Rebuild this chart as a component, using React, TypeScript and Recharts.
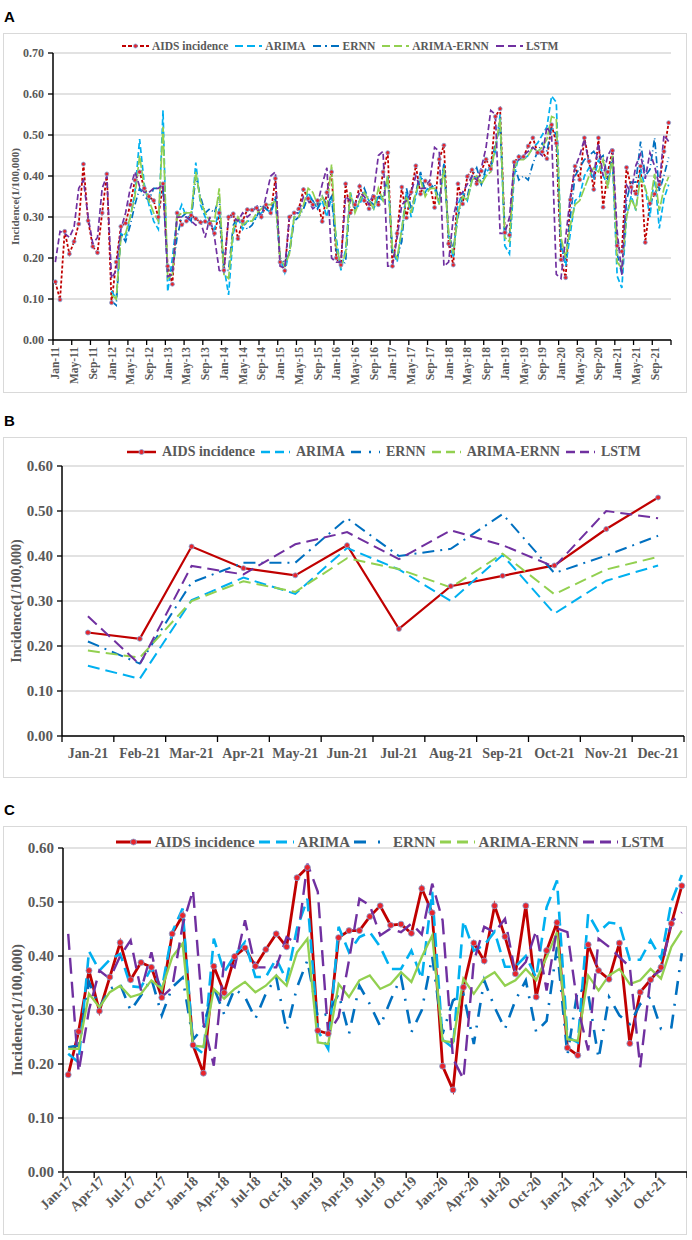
import React from 'react';
import { LineChart, Line, XAxis, YAxis, CartesianGrid } from 'recharts';

const SERIF = "'Liberation Serif', 'Times New Roman', serif";
const GREY = '#595959';

const MONTHS = ['Jan', 'Feb', 'Mar', 'Apr', 'May', 'Jun', 'Jul', 'Aug', 'Sep', 'Oct', 'Nov', 'Dec'];
const YEARS_A = ['11', '12', '13', '14', '15', '16', '17', '18', '19', '20', '21'];
const YEARS_C = ['17', '18', '19', '20', '21'];

// observed AIDS incidence (1/100,000)
const aidsEarly = [
  0.142, 0.098, 0.265, 0.210, 0.240, 0.283, 0.429, 0.291, 0.228, 0.213, 0.310, 0.405,
  0.091, 0.190, 0.277, 0.285, 0.330, 0.390, 0.410, 0.370, 0.350, 0.340, 0.300, 0.381,
  0.180, 0.136, 0.310, 0.281, 0.290, 0.304, 0.296, 0.287, 0.289, 0.284, 0.260, 0.310,
  0.170, 0.300, 0.308, 0.247, 0.290, 0.318, 0.317, 0.322, 0.300, 0.330, 0.310, 0.394,
  0.190, 0.169, 0.300, 0.310, 0.320, 0.367, 0.345, 0.330, 0.340, 0.289, 0.360, 0.410,
  0.200, 0.183, 0.381, 0.310, 0.330, 0.375, 0.340, 0.320, 0.350, 0.330, 0.410, 0.457,
];
const aidsLate = [
  0.180, 0.260, 0.373, 0.298, 0.361, 0.425, 0.356, 0.388, 0.379, 0.323, 0.441, 0.475,
  0.235, 0.183, 0.381, 0.332, 0.399, 0.415, 0.381, 0.412, 0.441, 0.417, 0.545, 0.564,
  0.262, 0.256, 0.434, 0.447, 0.447, 0.473, 0.493, 0.457, 0.459, 0.442, 0.525, 0.480,
  0.196, 0.152, 0.342, 0.424, 0.391, 0.493, 0.436, 0.367, 0.493, 0.324, 0.410, 0.462,
  0.230, 0.216, 0.421, 0.373, 0.357, 0.424, 0.238, 0.333, 0.356, 0.379, 0.460, 0.530,
];

// 2021 predictions (panel B, also the tail of panel A)
const arimaB = [0.156, 0.127, 0.302, 0.352, 0.316, 0.418, 0.370, 0.300, 0.402, 0.272, 0.345, 0.379];
const ernnB = [0.210, 0.161, 0.341, 0.385, 0.385, 0.484, 0.400, 0.416, 0.493, 0.362, 0.401, 0.445];
const hybridB = [0.190, 0.174, 0.300, 0.344, 0.320, 0.395, 0.371, 0.330, 0.405, 0.315, 0.370, 0.398];
const lstmB = [0.266, 0.159, 0.378, 0.359, 0.426, 0.453, 0.393, 0.457, 0.424, 0.376, 0.500, 0.484];

// fitted values, Jan-12 .. Dec-20
const arimaFitA = [
  0.120, 0.100, 0.260, 0.250, 0.300, 0.360, 0.490, 0.380, 0.330, 0.290, 0.270, 0.560,
  0.118, 0.200, 0.300, 0.330, 0.300, 0.290, 0.433, 0.330, 0.300, 0.280, 0.270, 0.320,
  0.180, 0.110, 0.260, 0.300, 0.270, 0.290, 0.290, 0.300, 0.310, 0.320, 0.310, 0.340,
  0.200, 0.165, 0.220, 0.300, 0.310, 0.320, 0.360, 0.340, 0.320, 0.340, 0.300, 0.350,
  0.250, 0.170, 0.220, 0.360, 0.320, 0.330, 0.360, 0.340, 0.320, 0.350, 0.340, 0.400,
  0.220, 0.190, 0.270, 0.360, 0.300, 0.350, 0.400, 0.360, 0.380, 0.370, 0.330, 0.430,
  0.250, 0.200, 0.330, 0.360, 0.340, 0.390, 0.400, 0.380, 0.410, 0.420, 0.460, 0.550,
  0.230, 0.210, 0.400, 0.450, 0.440, 0.450, 0.470, 0.480, 0.500, 0.520, 0.595, 0.580,
  0.240, 0.180, 0.260, 0.340, 0.350, 0.400, 0.420, 0.390, 0.440, 0.400, 0.380, 0.440,
];
const ernnFitA = [
  0.095, 0.085, 0.260, 0.240, 0.280, 0.330, 0.370, 0.350, 0.340, 0.370, 0.370, 0.370,
  0.170, 0.170, 0.250, 0.300, 0.310, 0.290, 0.400, 0.350, 0.310, 0.320, 0.310, 0.350,
  0.170, 0.170, 0.280, 0.300, 0.290, 0.270, 0.280, 0.300, 0.330, 0.320, 0.310, 0.350,
  0.200, 0.190, 0.210, 0.290, 0.300, 0.320, 0.350, 0.340, 0.320, 0.350, 0.330, 0.350,
  0.220, 0.180, 0.190, 0.350, 0.320, 0.340, 0.370, 0.340, 0.330, 0.350, 0.350, 0.400,
  0.210, 0.200, 0.240, 0.370, 0.320, 0.360, 0.410, 0.360, 0.370, 0.380, 0.340, 0.430,
  0.260, 0.220, 0.300, 0.350, 0.350, 0.400, 0.420, 0.380, 0.420, 0.420, 0.480, 0.520,
  0.270, 0.250, 0.430, 0.390, 0.400, 0.390, 0.430, 0.460, 0.480, 0.460, 0.520, 0.500,
  0.220, 0.200, 0.300, 0.400, 0.420, 0.440, 0.450, 0.460, 0.440, 0.450, 0.390, 0.450,
];
const hybridFitA = [
  0.110, 0.100, 0.250, 0.260, 0.300, 0.350, 0.450, 0.370, 0.340, 0.310, 0.290, 0.520,
  0.150, 0.160, 0.300, 0.310, 0.310, 0.310, 0.410, 0.340, 0.310, 0.290, 0.290, 0.370,
  0.160, 0.150, 0.270, 0.300, 0.280, 0.290, 0.290, 0.310, 0.320, 0.330, 0.330, 0.340,
  0.200, 0.180, 0.210, 0.300, 0.300, 0.330, 0.370, 0.360, 0.330, 0.350, 0.320, 0.428,
  0.230, 0.180, 0.210, 0.360, 0.310, 0.340, 0.360, 0.340, 0.320, 0.370, 0.340, 0.400,
  0.220, 0.200, 0.270, 0.350, 0.310, 0.360, 0.390, 0.350, 0.370, 0.370, 0.330, 0.420,
  0.260, 0.210, 0.310, 0.350, 0.340, 0.390, 0.400, 0.380, 0.400, 0.410, 0.470, 0.540,
  0.250, 0.240, 0.420, 0.440, 0.440, 0.450, 0.470, 0.460, 0.470, 0.490, 0.545, 0.540,
  0.250, 0.200, 0.280, 0.330, 0.340, 0.370, 0.400, 0.420, 0.410, 0.440, 0.370, 0.450,
];
// LSTM fitted values, Jan-11 .. Dec-20
const lstmFitA = [
  0.190, 0.265, 0.260, 0.250, 0.275, 0.370, 0.390, 0.300, 0.235, 0.250, 0.370, 0.400,
  0.150, 0.170, 0.270, 0.310, 0.370, 0.410, 0.375, 0.360, 0.360, 0.370, 0.370, 0.380,
  0.155, 0.160, 0.300, 0.300, 0.300, 0.290, 0.280, 0.290, 0.250, 0.300, 0.250, 0.170,
  0.165, 0.300, 0.300, 0.290, 0.310, 0.300, 0.310, 0.330, 0.300, 0.350, 0.400, 0.410,
  0.180, 0.175, 0.300, 0.310, 0.310, 0.350, 0.340, 0.320, 0.330, 0.380, 0.420, 0.200,
  0.190, 0.190, 0.350, 0.340, 0.330, 0.360, 0.350, 0.330, 0.360, 0.450, 0.460, 0.180,
  0.180, 0.250, 0.330, 0.340, 0.360, 0.400, 0.370, 0.370, 0.390, 0.470, 0.460, 0.180,
  0.190, 0.300, 0.350, 0.360, 0.380, 0.400, 0.390, 0.420, 0.470, 0.560, 0.550, 0.260,
  0.260, 0.300, 0.430, 0.440, 0.450, 0.460, 0.470, 0.460, 0.450, 0.520, 0.500, 0.160,
  0.150, 0.250, 0.350, 0.420, 0.450, 0.490, 0.430, 0.400, 0.480, 0.400, 0.450, 0.470,
];

// panel C predictions, Jan-17 .. Dec-21
const arimaC = [
  0.219, 0.203, 0.409, 0.373, 0.393, 0.404, 0.344, 0.342, 0.378, 0.339, 0.444, 0.488,
  0.234, 0.219, 0.432, 0.370, 0.401, 0.426, 0.361, 0.361, 0.395, 0.355, 0.451, 0.506,
  0.262, 0.228, 0.454, 0.407, 0.435, 0.444, 0.417, 0.376, 0.376, 0.410, 0.358, 0.519,
  0.245, 0.230, 0.465, 0.410, 0.420, 0.445, 0.380, 0.380, 0.400, 0.360, 0.490, 0.540,
  0.250, 0.240, 0.478, 0.444, 0.462, 0.459, 0.393, 0.393, 0.429, 0.395, 0.500, 0.550,
];
const ernnC = [
  0.231, 0.234, 0.352, 0.305, 0.339, 0.348, 0.299, 0.327, 0.358, 0.290, 0.342, 0.360,
  0.245, 0.268, 0.342, 0.292, 0.339, 0.324, 0.284, 0.330, 0.361, 0.262, 0.342, 0.392,
  0.287, 0.293, 0.330, 0.256, 0.345, 0.311, 0.270, 0.318, 0.361, 0.259, 0.300, 0.399,
  0.256, 0.318, 0.330, 0.237, 0.355, 0.305, 0.265, 0.318, 0.355, 0.259, 0.280, 0.417,
  0.216, 0.339, 0.330, 0.210, 0.324, 0.290, 0.274, 0.311, 0.324, 0.265, 0.268, 0.405,
];
const hybridC = [
  0.228, 0.228, 0.330, 0.305, 0.333, 0.345, 0.324, 0.330, 0.355, 0.339, 0.398, 0.423,
  0.234, 0.232, 0.339, 0.321, 0.339, 0.352, 0.333, 0.345, 0.364, 0.345, 0.407, 0.432,
  0.240, 0.237, 0.348, 0.324, 0.355, 0.364, 0.339, 0.348, 0.370, 0.352, 0.398, 0.438,
  0.243, 0.240, 0.358, 0.330, 0.358, 0.370, 0.345, 0.355, 0.376, 0.355, 0.398, 0.444,
  0.246, 0.243, 0.364, 0.336, 0.364, 0.376, 0.348, 0.355, 0.376, 0.358, 0.417, 0.447,
];
const lstmC = [
  0.441, 0.185, 0.300, 0.373, 0.358, 0.400, 0.429, 0.336, 0.407, 0.324, 0.342, 0.457,
  0.522, 0.277, 0.197, 0.392, 0.379, 0.466, 0.379, 0.379, 0.379, 0.435, 0.423, 0.571,
  0.519, 0.256, 0.287, 0.392, 0.506, 0.494, 0.438, 0.451, 0.444, 0.460, 0.440, 0.534,
  0.466, 0.210, 0.172, 0.390, 0.454, 0.444, 0.469, 0.367, 0.389, 0.447, 0.336, 0.451,
  0.444, 0.305, 0.225, 0.432, 0.417, 0.398, 0.380, 0.194, 0.361, 0.373, 0.463, 0.481,
];

const ticksA = [0, 0.1, 0.2, 0.3, 0.4, 0.5, 0.6, 0.7];
const ticksBC = [0, 0.1, 0.2, 0.3, 0.4, 0.5, 0.6];

const monthsA = YEARS_A.flatMap((y) => MONTHS.map((m) => `${m}-${y}`));
const monthsB = MONTHS.map((m) => `${m}-21`);
const monthsC = YEARS_C.flatMap((y) => MONTHS.map((m) => `${m}-${y}`));

const pad12 = Array(12).fill(null);
const aidsA = [...aidsEarly, ...aidsLate];
const arimaA = [...pad12, ...arimaFitA, ...arimaB];
const ernnA = [...pad12, ...ernnFitA, ...ernnB];
const hybridA = [...pad12, ...hybridFitA, ...hybridB];
const lstmA = [...lstmFitA, ...lstmB];
const aidsB = aidsLate.slice(48);

const dataA = monthsA.map((month, i) => ({
  month, aids: aidsA[i], arima: arimaA[i], ernn: ernnA[i], hybrid: hybridA[i], lstm: lstmA[i],
}));
const dataB = monthsB.map((month, i) => ({
  month, aids: aidsB[i], arima: arimaB[i], ernn: ernnB[i], hybrid: hybridB[i], lstm: lstmB[i],
}));
const dataC = monthsC.map((month, i) => ({
  month, aids: aidsLate[i], arima: arimaC[i], ernn: ernnC[i], hybrid: hybridC[i], lstm: lstmC[i],
}));

const SERIES = [
  { key: 'aids', name: 'AIDS incidence', color: '#c00000' },
  { key: 'arima', name: 'ARIMA', color: '#00b0f0' },
  { key: 'ernn', name: 'ERNN', color: '#0070c0' },
  { key: 'hybrid', name: 'ARIMA-ERNN', color: '#92d050' },
  { key: 'lstm', name: 'LSTM', color: '#7030a0' },
];

type Dashes = Record<string, string | undefined>;

function makeXTick(kind: string, labels: string[], band: number, step: number, fontSize: number, tickLen: number) {
  return (props: any) => {
    const { x, y, payload } = props;
    const idx = labels.indexOf(payload.value);
    const half = band / 2;
    const axisY = y - tickLen;
    const lastEdge = idx + step >= labels.length ? x - half + (labels.length - idx) * band : null;
    let text;
    if (kind === 'vertical') {
      text = (
        <text transform={`translate(${x + 4},${y + 2}) rotate(-90)`} textAnchor="end">
          {payload.value}
        </text>
      );
    } else if (kind === 'diagonal') {
      text = (
        <text transform={`translate(${x + 6},${y + 4}) rotate(-45)`} textAnchor="end">
          {payload.value}
        </text>
      );
    } else {
      text = (
        <text x={x} y={y + 16} textAnchor="middle">
          {payload.value}
        </text>
      );
    }
    return (
      <g fill={GREY} fontSize={fontSize} fontWeight={700} fontFamily={SERIF}>
        <line x1={x - half} y1={axisY} x2={x - half} y2={axisY + tickLen} stroke="#000" strokeWidth={1.3} />
        {lastEdge !== null && (
          <line x1={lastEdge} y1={axisY} x2={lastEdge} y2={axisY + tickLen} stroke="#000" strokeWidth={1.3} />
        )}
        {text}
      </g>
    );
  };
}

function LegendRow(props: {
  top: number; left: number; fontSize: number; symW: number; textGap: number; itemGap: number;
  dashes: Dashes; lineW: number; dotR: number;
}) {
  const { top, left, fontSize, symW, textGap, itemGap, dashes, lineW, dotR } = props;
  return (
    <div style={{ position: 'absolute', top: top - 9, left, height: 18, display: 'flex', alignItems: 'center', whiteSpace: 'nowrap' }}>
      {SERIES.map((s) => (
        <div key={s.key} style={{ display: 'flex', alignItems: 'center', marginRight: itemGap }}>
          <svg width={symW} height={10} style={{ display: 'block' }}>
            <line x1={0} y1={5} x2={symW} y2={5} stroke={s.color} strokeWidth={lineW} strokeDasharray={dashes[s.key]} />
            {s.key === 'aids' && (
              <circle cx={symW / 2} cy={5} r={dotR} fill="#e8242c" stroke="#7fa8dc" strokeWidth={0.8} />
            )}
          </svg>
          <span style={{ marginLeft: textGap, fontSize, fontWeight: 700, color: GREY, fontFamily: SERIF }}>{s.name}</span>
        </div>
      ))}
    </div>
  );
}

function Panel(props: {
  letter: string; top: number; height: number; data: any[]; labels: string[];
  marginTop: number; marginRight: number; yWidth: number; xHeight: number;
  yMax: number; yTicks: number[]; tickFont: number; titleFont: number; titleX: number;
  xKind: string; interval: number; tickLen: number; xFont: number;
  dashes: Dashes; widths: Record<string, number>; dotR: number;
}) {
  const p = props;
  const width = 684;
  const plotW = width - p.marginRight - p.yWidth;
  const band = plotW / p.labels.length;
  const tick = makeXTick(p.xKind, p.labels, band, p.interval + 1, p.xFont, p.tickLen);
  return (
    <>
      <div style={{ position: 'absolute', left: 4, top: p.top - 25, fontFamily: "'Liberation Sans', Arial, sans-serif", fontWeight: 700, fontSize: 15 }}>
        {p.letter}
      </div>
      <div style={{ position: 'absolute', left: 3, top: p.top, width, height: p.height, boxSizing: 'border-box', border: '1px solid #d9d9d9' }} />
      <div style={{ position: 'absolute', left: 3, top: p.top }}>
        <LineChart
          width={width}
          height={p.height}
          data={p.data}
          margin={{ top: p.marginTop, right: p.marginRight, bottom: 0, left: 0 }}
        >
          <CartesianGrid vertical={false} stroke="#d9d9d9" strokeWidth={1.3} />
          <XAxis
            dataKey="month"
            interval={p.interval}
            height={p.xHeight}
            padding={{ left: band / 2, right: band / 2 }}
            axisLine={{ stroke: '#000', strokeWidth: 1.5 }}
            tickLine={false}
            tickSize={p.tickLen}
            tickMargin={0}
            tick={tick}
          />
          <YAxis
            type="number"
            domain={[0, p.yMax]}
            ticks={p.yTicks}
            width={p.yWidth}
            tickFormatter={(v: number) => v.toFixed(2)}
            axisLine={{ stroke: '#000', strokeWidth: 1.5 }}
            tickLine={{ stroke: '#000', strokeWidth: 1.3 }}
            tickSize={5}
            tickMargin={4}
            tick={{ fill: GREY, fontSize: p.tickFont, fontWeight: 700, fontFamily: SERIF }}
            label={{
              value: 'Incidence(1/100,000)',
              angle: -90,
              position: 'insideLeft',
              offset: p.titleX,
              style: { textAnchor: 'middle', fill: GREY, fontSize: p.titleFont, fontWeight: 700, fontFamily: SERIF },
            }}
          />
          {SERIES.map((s) => (
            <Line
              key={s.key}
              type="linear"
              dataKey={s.key}
              name={s.name}
              stroke={s.color}
              strokeWidth={p.widths[s.key]}
              strokeDasharray={p.dashes[s.key]}
              dot={s.key === 'aids' ? { r: p.dotR, fill: '#e8242c', stroke: '#7fa8dc', strokeWidth: 0.8, strokeDasharray: 'none' } : false}
              activeDot={false}
              isAnimationActive={false}
            />
          ))}
        </LineChart>
      </div>
    </>
  );
}

const DASH_A: Dashes = { aids: '3 2', arima: '6 3', ernn: '7 3 1 3', hybrid: '10 2', lstm: '6 3' };
const DASH_B: Dashes = { aids: undefined, arima: '12 6', ernn: '12 6 2 6', hybrid: '12 6', lstm: '12 6' };
const DASH_C: Dashes = { aids: undefined, arima: '14 7', ernn: '14 9 2 9', hybrid: undefined, lstm: '16 8' };
const LEG_A: Dashes = { aids: '4 2', arima: '8 4', ernn: '8 4 2 4', hybrid: '8 4', lstm: '8 4' };
const LEG_B: Dashes = { aids: undefined, arima: '9 5', ernn: '10 8 2 8', hybrid: '9 5', lstm: '9 5' };
const LEG_C: Dashes = { aids: undefined, arima: '11 6', ernn: '12 12 2 12', hybrid: '11 6', lstm: '11 6' };

export default function App() {
  return (
    <div style={{ position: 'absolute', left: 0, top: 0, width: 692, height: 1240, background: '#fff' }}>
      <Panel
        letter="A" top={33} height={360} data={dataA} labels={monthsA}
        marginTop={20} marginRight={16} yWidth={50} xHeight={53}
        yMax={0.7} yTicks={ticksA} tickFont={12} titleFont={11} titleX={12}
        xKind="vertical" interval={3} tickLen={5} xFont={11.5}
        dashes={DASH_A}
        widths={{ aids: 1.8, arima: 1.7, ernn: 1.7, hybrid: 1.7, lstm: 1.7 }}
        dotR={2}
      />
      <LegendRow top={46} left={122} fontSize={11.5} symW={27} textGap={3} itemGap={7} dashes={LEG_A} lineW={2} dotR={2} />

      <Panel
        letter="B" top={437} height={341} data={dataB} labels={monthsB}
        marginTop={29} marginRight={3} yWidth={59} xHeight={42}
        yMax={0.6} yTicks={ticksBC} tickFont={15} titleFont={14} titleX={13}
        xKind="horizontal" interval={0} tickLen={6} xFont={14}
        dashes={DASH_B}
        widths={{ aids: 2.2, arima: 2, ernn: 2, hybrid: 2, lstm: 2 }}
        dotR={2.5}
      />
      <LegendRow top={452} left={127} fontSize={14} symW={29} textGap={6} itemGap={6} dashes={LEG_B} lineW={2.5} dotR={2.5} />

      <Panel
        letter="C" top={826} height={409} data={dataC} labels={monthsC}
        marginTop={22} marginRight={0} yWidth={60} xHeight={63}
        yMax={0.6} yTicks={ticksBC} tickFont={15} titleFont={15} titleX={14}
        xKind="diagonal" interval={2} tickLen={6} xFont={14}
        dashes={DASH_C}
        widths={{ aids: 2.8, arima: 2.6, ernn: 2.6, hybrid: 2.3, lstm: 2.4 }}
        dotR={3}
      />
      <LegendRow top={842} left={116} fontSize={15} symW={35} textGap={4} itemGap={4} dashes={LEG_C} lineW={3} dotR={3} />
    </div>
  );
}
